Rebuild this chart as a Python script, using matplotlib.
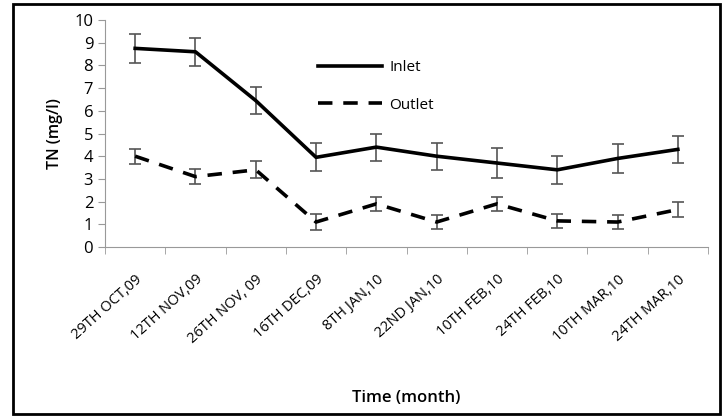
import matplotlib.pyplot as plt
from matplotlib.patches import Rectangle
import numpy as np

plt.rcParams['font.family'] = ['Open Sans', 'DejaVu Sans']

dates = ['29TH OCT,09', '12TH NOV,09', '26TH NOV, 09', '16TH DEC,09', '8TH JAN,10',
         '22ND JAN,10', '10TH FEB,10', '24TH FEB,10', '10TH MAR,10', '24TH MAR,10']
inlet = [8.75, 8.6, 6.45, 3.95, 4.4, 4.0, 3.7, 3.4, 3.9, 4.3]
inlet_err = [0.65, 0.62, 0.6, 0.62, 0.6, 0.6, 0.65, 0.63, 0.62, 0.6]
outlet = [4.0, 3.1, 3.4, 1.1, 1.9, 1.1, 1.9, 1.15, 1.1, 1.65]
outlet_err = [0.33, 0.33, 0.37, 0.35, 0.3, 0.3, 0.3, 0.3, 0.3, 0.35]

fig = plt.figure(figsize=(7.24, 4.16), dpi=100)
ax = fig.add_axes([105 / 724, 1 - 247 / 416, (708 - 105) / 724, (247 - 20) / 416])

x = np.arange(len(dates))
ax.errorbar(x, inlet, yerr=inlet_err, color='black', lw=2.6, ecolor='#555555',
            elinewidth=1.2, capsize=4, capthick=1.2, label='Inlet')
ax.errorbar(x, outlet, yerr=outlet_err, color='black', lw=2.6, ls=(0, (4, 3)),
            ecolor='#555555', elinewidth=1.2, capsize=4, capthick=1.2, label='Outlet')

ax.set_xlim(-0.5, len(dates) - 0.5)
ax.set_ylim(0, 10)
ax.set_yticks(range(0, 11))
ax.set_xticks(x)
ax.set_xticklabels(dates, rotation=42, ha='right', rotation_mode='anchor', fontsize=10.5)
ax.set_xticks(np.arange(-0.5, len(dates)), minor=True)
ax.tick_params(axis='x', which='major', length=0, pad=18)
ax.tick_params(axis='x', which='minor', length=5, color='#999999', direction='out')
ax.tick_params(axis='y', length=5, color='#999999', labelsize=12)
for s in ['top', 'right']:
    ax.spines[s].set_visible(False)
for s in ['left', 'bottom']:
    ax.spines[s].set_color('#999999')

ax.set_ylabel('TN (mg/l)', fontsize=11.5, fontweight='semibold', labelpad=8)
fig.text((105 + 708) / 2 / 724, 1 - 398 / 416, 'Time (month)', ha='center', va='center',
         fontsize=12, fontweight='semibold')

h, l = ax.get_legend_handles_labels()
h = [hh[0] for hh in h]
ax.legend(h, l, frameon=False, loc='upper left', bbox_to_anchor=(0.33, 0.885),
          handlelength=4.2, fontsize=11, labelspacing=1.5, handletextpad=0.5)

fig.patches.append(Rectangle((13 / 724, 2 / 416), 707 / 724, 410 / 416, fill=False,
                             edgecolor='black', lw=2, transform=fig.transFigure))

fig.savefig('out.png', dpi=100)
